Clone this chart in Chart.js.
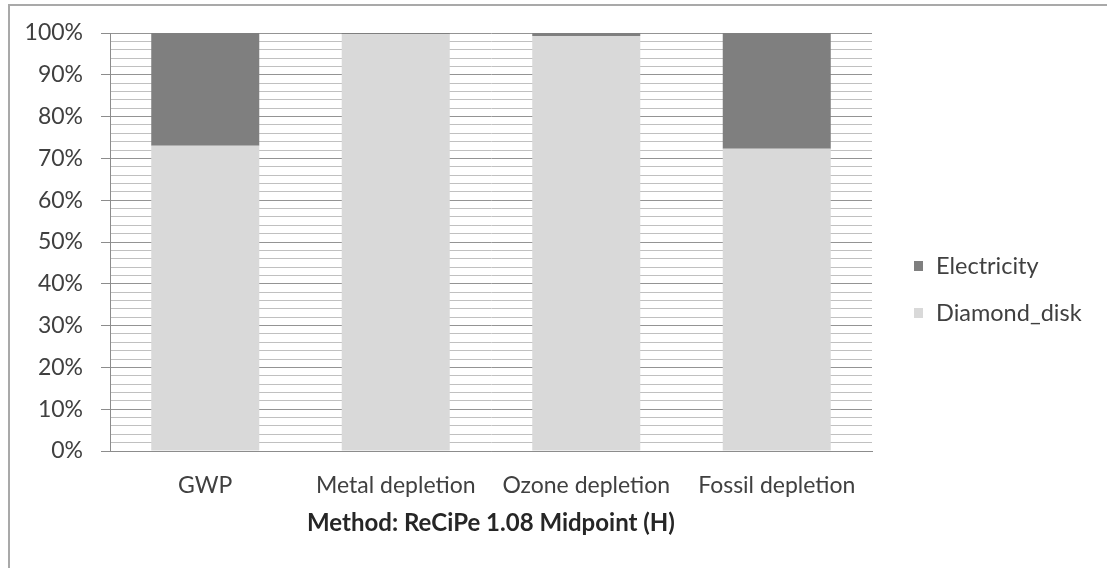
<!DOCTYPE html>
<html>
<head>
<meta charset="utf-8">
<script src="https://cdn.jsdelivr.net/npm/chart.js@4.4.0/dist/chart.umd.min.js"></script>
<style>
  html, body { margin: 0; padding: 0; background: #fff; }
  #wrap { position: relative; width: 1107px; height: 568px; }
  #frame { position: absolute; left: 8px; top: 4px; right: 0; bottom: 0;
           border-top: 2px solid #a9a9a9; border-left: 2px solid #a9a9a9; pointer-events: none; }
  canvas { position: absolute; left: 0; top: 0; }
</style>
</head>
<body>
<div id="wrap">
  <canvas id="c" width="1107" height="568"></canvas>
  <div id="frame"></div>
</div>
<script>
const categories = ['GWP', 'Metal depletion', 'Ozone depletion', 'Fossil depletion'];
const diamondDisk = [73.0, 99.7, 99.3, 72.3];
const electricity = [27.0, 0.3, 0.7, 27.7];
const seriesNames = ['Diamond_disk', 'Electricity'];
const axisTitle = 'Method: ReCiPe 1.08 Midpoint (H)';

const FONT = 'Lato, "Open Sans", sans-serif';

const legendPlugin = {
  id: 'sideLegend',
  afterDraw(chart) {
    const ctx = chart.ctx;
    const items = chart.data.datasets.slice().reverse();
    ctx.save();
    ctx.font = '23.5px ' + FONT;
    ctx.textBaseline = 'middle';
    ctx.textAlign = 'left';
    items.forEach((ds, i) => {
      const y = 266 + i * 47;
      ctx.fillStyle = ds.backgroundColor;
      ctx.fillRect(914, y - 5, 9, 10);
      ctx.fillStyle = '#404040';
      ctx.fillText(ds.label, 936, y);
    });
    ctx.restore();
  }
};

new Chart(document.getElementById('c'), {
  type: 'bar',
  data: {
    labels: categories,
    datasets: [
      { label: seriesNames[0], data: diamondDisk, backgroundColor: '#d9d9d9' },
      { label: seriesNames[1], data: electricity, backgroundColor: '#7f7f7f' }
    ]
  },
  options: {
    responsive: false,
    animation: false,
    devicePixelRatio: 1,
    layout: { padding: { left: 0, right: 235, top: 33, bottom: 0 } },
    datasets: { bar: { barPercentage: 0.567, categoryPercentage: 1.0 } },
    plugins: { legend: { display: false }, tooltip: { enabled: false } },
    scales: {
      x: {
        stacked: true,
        grid: { display: false, drawTicks: false, tickLength: 0 },
        border: { display: true, color: '#8c8c8c', width: 1 },
        ticks: { color: '#404040', font: { family: FONT, size: 23 }, padding: 21, maxRotation: 0 },
        title: { display: true, text: axisTitle, color: '#262626',
                 font: { family: FONT, size: 24, weight: 'bold' }, padding: { top: 0, bottom: 30 } },
        afterFit(scale) { scale.height = 117; }
      },
      y: {
        stacked: true,
        min: 0, max: 100,
        ticks: {
          stepSize: 2, autoSkip: false,
          color: '#404040', font: { family: FONT, size: 23 }, padding: 18,
          callback: (v) => (v % 10 === 0 ? v + '%' : '')
        },
        grid: {
          drawTicks: true, tickLength: 9,
          color: (c) => (c.tick && c.tick.value % 10 === 0 ? '#949494' : '#c0c0c0'),
          tickColor: (c) => (c.tick && c.tick.value % 10 === 0 ? '#8c8c8c' : 'rgba(0,0,0,0)')
        },
        border: { display: true, color: '#8c8c8c', width: 1 },
        afterFit(scale) { scale.width = 110; }
      }
    }
  },
  plugins: [legendPlugin]
});
</script>
</body>
</html>
